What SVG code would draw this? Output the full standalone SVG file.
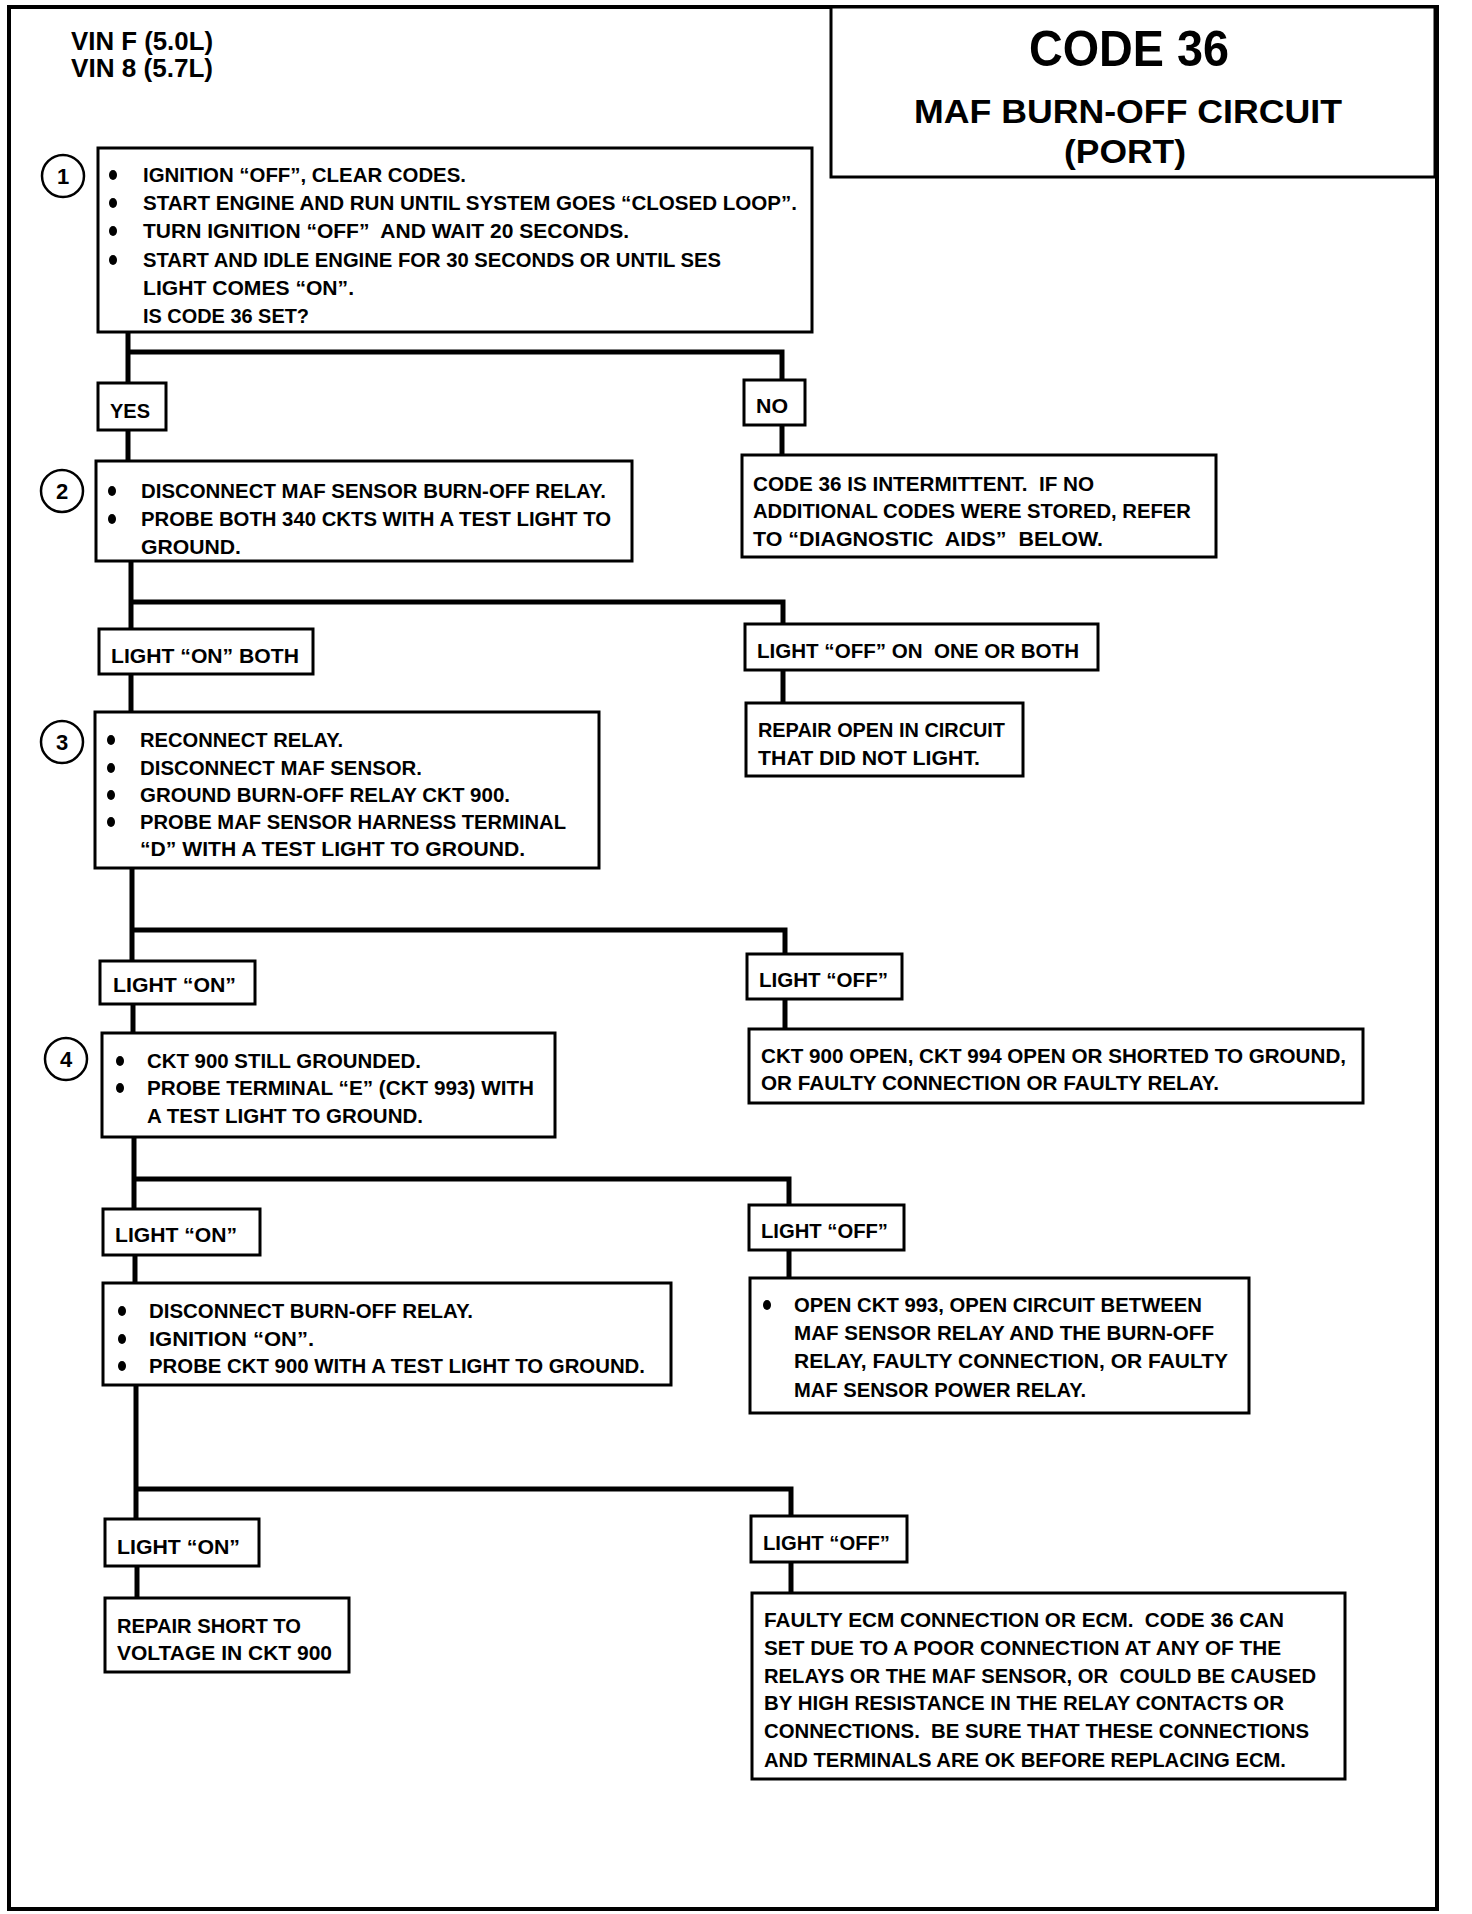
<svg xmlns="http://www.w3.org/2000/svg" width="1472" height="1914" viewBox="0 0 1472 1914" xml:space="preserve">
<style>
.bg{fill:#fff}
.frame{fill:none;stroke:#000;stroke-width:4}
.box{fill:#fff;stroke:#000;stroke-width:3}
.con{fill:none;stroke:#000;stroke-width:5;stroke-linejoin:miter}
.t{font-family:"Liberation Sans",Arial,sans-serif;font-weight:bold;font-size:20.5px;fill:#000;white-space:pre}
.vin{font-family:"Liberation Sans",Arial,sans-serif;font-weight:bold;font-size:25px;fill:#000}
.h1{font-family:"Liberation Sans",Arial,sans-serif;font-weight:bold;font-size:50px;fill:#000}
.h2{font-family:"Liberation Sans",Arial,sans-serif;font-weight:bold;font-size:33px;fill:#000}
.num{font-family:"Liberation Sans",Arial,sans-serif;font-weight:bold;font-size:22px;fill:#000;text-anchor:middle}
.circ{fill:#fff;stroke:#000;stroke-width:2.5}
.dot{fill:#000}
</style>
<rect class="bg" x="0" y="0" width="1472" height="1914"/>
<rect class="frame" x="9" y="7" width="1428" height="1902"/>
<g id="header">
<text class="vin" x="71" y="50" textLength="142" lengthAdjust="spacingAndGlyphs">VIN F (5.0L)</text>
<text class="vin" x="71" y="77" textLength="142" lengthAdjust="spacingAndGlyphs">VIN 8 (5.7L)</text>
</g>
<g id="title">
<rect class="box" x="831" y="7" width="604" height="170"/>
<text class="h1" x="1029" y="66" textLength="200" lengthAdjust="spacingAndGlyphs">CODE 36</text>
<text class="h2" x="914" y="123" textLength="428" lengthAdjust="spacingAndGlyphs">MAF BURN-OFF CIRCUIT</text>
<text class="h2" x="1064" y="163" textLength="122" lengthAdjust="spacingAndGlyphs">(PORT)</text>
</g>
<g id="connectors">
<path class="con" d="M128,332 V383 M128,352 H782 V380"/>
<path class="con" d="M128,430 V461"/>
<path class="con" d="M782,425 V455"/>
<path class="con" d="M131,561 V629 M131,602 H783 V624"/>
<path class="con" d="M783,670 V703"/>
<path class="con" d="M131,674 V712"/>
<path class="con" d="M132,868 V961 M132,930 H785 V954"/>
<path class="con" d="M133,1004 V1033"/>
<path class="con" d="M785,999 V1029"/>
<path class="con" d="M134,1137 V1209 M134,1179 H789 V1205"/>
<path class="con" d="M135,1255 V1283"/>
<path class="con" d="M789,1250 V1278"/>
<path class="con" d="M136,1385 V1519 M136,1489 H791 V1516"/>
<path class="con" d="M137,1566 V1598"/>
<path class="con" d="M791,1562 V1593"/>
</g>
<g id="step1">
<circle class="circ" cx="63" cy="176" r="21"/>
<text class="num" x="63" y="184">1</text>
<rect class="box" x="98" y="148" width="714" height="184"/>
<ellipse class="dot" cx="113" cy="175" rx="4" ry="5"/>
<ellipse class="dot" cx="113" cy="203" rx="4" ry="5"/>
<ellipse class="dot" cx="113" cy="231" rx="4" ry="5"/>
<ellipse class="dot" cx="113" cy="260" rx="4" ry="5"/>
<text class="t" x="143" y="182" textLength="323" lengthAdjust="spacingAndGlyphs">IGNITION “OFF”, CLEAR CODES.</text>
<text class="t" x="143" y="210" textLength="654" lengthAdjust="spacingAndGlyphs">START ENGINE AND RUN UNTIL SYSTEM GOES “CLOSED LOOP”.</text>
<text class="t" x="143" y="238" textLength="486" lengthAdjust="spacingAndGlyphs">TURN IGNITION “OFF”  AND WAIT 20 SECONDS.</text>
<text class="t" x="143" y="267" textLength="578" lengthAdjust="spacingAndGlyphs">START AND IDLE ENGINE FOR 30 SECONDS OR UNTIL SES</text>
<text class="t" x="143" y="295" textLength="211" lengthAdjust="spacingAndGlyphs">LIGHT COMES “ON”.</text>
<text class="t" x="143" y="323" textLength="166" lengthAdjust="spacingAndGlyphs">IS CODE 36 SET?</text>
</g>
<g id="yes">
<rect class="box" x="98" y="383" width="68" height="47"/>
<text class="t" x="110" y="418" textLength="40" lengthAdjust="spacingAndGlyphs">YES</text>
</g>
<g id="no">
<rect class="box" x="744" y="380" width="61" height="45"/>
<text class="t" x="756" y="413" textLength="32" lengthAdjust="spacingAndGlyphs">NO</text>
</g>
<g id="step2">
<circle class="circ" cx="62" cy="491" r="21"/>
<text class="num" x="62" y="499">2</text>
<rect class="box" x="96" y="461" width="536" height="100"/>
<ellipse class="dot" cx="112" cy="491" rx="4" ry="5"/>
<ellipse class="dot" cx="112" cy="519" rx="4" ry="5"/>
<text class="t" x="141" y="498" textLength="465" lengthAdjust="spacingAndGlyphs">DISCONNECT MAF SENSOR BURN-OFF RELAY.</text>
<text class="t" x="141" y="526" textLength="470" lengthAdjust="spacingAndGlyphs">PROBE BOTH 340 CKTS WITH A TEST LIGHT TO</text>
<text class="t" x="141" y="554" textLength="100" lengthAdjust="spacingAndGlyphs">GROUND.</text>
</g>
<g id="intermittent">
<rect class="box" x="742" y="455" width="474" height="102"/>
<text class="t" x="753" y="491" textLength="341" lengthAdjust="spacingAndGlyphs">CODE 36 IS INTERMITTENT.  IF NO</text>
<text class="t" x="753" y="518" textLength="438" lengthAdjust="spacingAndGlyphs">ADDITIONAL CODES WERE STORED, REFER</text>
<text class="t" x="753" y="546" textLength="350" lengthAdjust="spacingAndGlyphs">TO “DIAGNOSTIC  AIDS”  BELOW.</text>
</g>
<g id="light-on-both">
<rect class="box" x="99" y="629" width="214" height="45"/>
<text class="t" x="111" y="663" textLength="188" lengthAdjust="spacingAndGlyphs">LIGHT “ON” BOTH</text>
</g>
<g id="light-off-one">
<rect class="box" x="745" y="624" width="353" height="46"/>
<text class="t" x="757" y="658" textLength="322" lengthAdjust="spacingAndGlyphs">LIGHT “OFF” ON  ONE OR BOTH</text>
</g>
<g id="repair-open">
<rect class="box" x="746" y="703" width="277" height="73"/>
<text class="t" x="758" y="737" textLength="247" lengthAdjust="spacingAndGlyphs">REPAIR OPEN IN CIRCUIT</text>
<text class="t" x="758" y="765" textLength="222" lengthAdjust="spacingAndGlyphs">THAT DID NOT LIGHT.</text>
</g>
<g id="step3">
<circle class="circ" cx="62" cy="742" r="21"/>
<text class="num" x="62" y="750">3</text>
<rect class="box" x="95" y="712" width="504" height="156"/>
<ellipse class="dot" cx="111" cy="740" rx="4" ry="5"/>
<ellipse class="dot" cx="111" cy="768" rx="4" ry="5"/>
<ellipse class="dot" cx="111" cy="795" rx="4" ry="5"/>
<ellipse class="dot" cx="111" cy="822" rx="4" ry="5"/>
<text class="t" x="140" y="747" textLength="203" lengthAdjust="spacingAndGlyphs">RECONNECT RELAY.</text>
<text class="t" x="140" y="775" textLength="282" lengthAdjust="spacingAndGlyphs">DISCONNECT MAF SENSOR.</text>
<text class="t" x="140" y="802" textLength="370" lengthAdjust="spacingAndGlyphs">GROUND BURN-OFF RELAY CKT 900.</text>
<text class="t" x="140" y="829" textLength="426" lengthAdjust="spacingAndGlyphs">PROBE MAF SENSOR HARNESS TERMINAL</text>
<text class="t" x="140" y="856" textLength="385" lengthAdjust="spacingAndGlyphs">“D” WITH A TEST LIGHT TO GROUND.</text>
</g>
<g id="light-on-2">
<rect class="box" x="100" y="961" width="155" height="43"/>
<text class="t" x="113" y="992" textLength="123" lengthAdjust="spacingAndGlyphs">LIGHT “ON”</text>
</g>
<g id="light-off-2">
<rect class="box" x="747" y="954" width="155" height="45"/>
<text class="t" x="759" y="987" textLength="129" lengthAdjust="spacingAndGlyphs">LIGHT “OFF”</text>
</g>
<g id="step4">
<circle class="circ" cx="66" cy="1059" r="21"/>
<text class="num" x="66" y="1067">4</text>
<rect class="box" x="102" y="1033" width="453" height="104"/>
<ellipse class="dot" cx="120" cy="1061" rx="4" ry="5"/>
<ellipse class="dot" cx="120" cy="1088" rx="4" ry="5"/>
<text class="t" x="147" y="1068" textLength="274" lengthAdjust="spacingAndGlyphs">CKT 900 STILL GROUNDED.</text>
<text class="t" x="147" y="1095" textLength="387" lengthAdjust="spacingAndGlyphs">PROBE TERMINAL “E” (CKT 993) WITH</text>
<text class="t" x="147" y="1123" textLength="276" lengthAdjust="spacingAndGlyphs">A TEST LIGHT TO GROUND.</text>
</g>
<g id="ckt900-open">
<rect class="box" x="749" y="1029" width="614" height="74"/>
<text class="t" x="761" y="1063" textLength="585" lengthAdjust="spacingAndGlyphs">CKT 900 OPEN, CKT 994 OPEN OR SHORTED TO GROUND,</text>
<text class="t" x="761" y="1090" textLength="458" lengthAdjust="spacingAndGlyphs">OR FAULTY CONNECTION OR FAULTY RELAY.</text>
</g>
<g id="light-on-3">
<rect class="box" x="103" y="1209" width="157" height="46"/>
<text class="t" x="115" y="1242" textLength="122" lengthAdjust="spacingAndGlyphs">LIGHT “ON”</text>
</g>
<g id="light-off-3">
<rect class="box" x="749" y="1205" width="155" height="45"/>
<text class="t" x="761" y="1238" textLength="127" lengthAdjust="spacingAndGlyphs">LIGHT “OFF”</text>
</g>
<g id="step5">
<rect class="box" x="103" y="1283" width="568" height="102"/>
<ellipse class="dot" cx="122" cy="1311" rx="4" ry="5"/>
<ellipse class="dot" cx="122" cy="1339" rx="4" ry="5"/>
<ellipse class="dot" cx="122" cy="1366" rx="4" ry="5"/>
<text class="t" x="149" y="1318" textLength="324" lengthAdjust="spacingAndGlyphs">DISCONNECT BURN-OFF RELAY.</text>
<text class="t" x="149" y="1346" textLength="165" lengthAdjust="spacingAndGlyphs">IGNITION “ON”.</text>
<text class="t" x="149" y="1373" textLength="496" lengthAdjust="spacingAndGlyphs">PROBE CKT 900 WITH A TEST LIGHT TO GROUND.</text>
</g>
<g id="open-ckt993">
<rect class="box" x="750" y="1278" width="499" height="135"/>
<ellipse class="dot" cx="767" cy="1305" rx="4" ry="5"/>
<text class="t" x="794" y="1312" textLength="408" lengthAdjust="spacingAndGlyphs">OPEN CKT 993, OPEN CIRCUIT BETWEEN</text>
<text class="t" x="794" y="1340" textLength="420" lengthAdjust="spacingAndGlyphs">MAF SENSOR RELAY AND THE BURN-OFF</text>
<text class="t" x="794" y="1368" textLength="434" lengthAdjust="spacingAndGlyphs">RELAY, FAULTY CONNECTION, OR FAULTY</text>
<text class="t" x="794" y="1397" textLength="292" lengthAdjust="spacingAndGlyphs">MAF SENSOR POWER RELAY.</text>
</g>
<g id="light-on-4">
<rect class="box" x="105" y="1519" width="154" height="47"/>
<text class="t" x="117" y="1554" textLength="123" lengthAdjust="spacingAndGlyphs">LIGHT “ON”</text>
</g>
<g id="light-off-4">
<rect class="box" x="751" y="1516" width="156" height="46"/>
<text class="t" x="763" y="1550" textLength="127" lengthAdjust="spacingAndGlyphs">LIGHT “OFF”</text>
</g>
<g id="repair-short">
<rect class="box" x="105" y="1598" width="244" height="74"/>
<text class="t" x="117" y="1633" textLength="184" lengthAdjust="spacingAndGlyphs">REPAIR SHORT TO</text>
<text class="t" x="117" y="1660" textLength="215" lengthAdjust="spacingAndGlyphs">VOLTAGE IN CKT 900</text>
</g>
<g id="faulty-ecm">
<rect class="box" x="752" y="1593" width="593" height="186"/>
<text class="t" x="764" y="1627" textLength="520" lengthAdjust="spacingAndGlyphs">FAULTY ECM CONNECTION OR ECM.  CODE 36 CAN</text>
<text class="t" x="764" y="1655" textLength="517" lengthAdjust="spacingAndGlyphs">SET DUE TO A POOR CONNECTION AT ANY OF THE</text>
<text class="t" x="764" y="1683" textLength="552" lengthAdjust="spacingAndGlyphs">RELAYS OR THE MAF SENSOR, OR  COULD BE CAUSED</text>
<text class="t" x="764" y="1710" textLength="520" lengthAdjust="spacingAndGlyphs">BY HIGH RESISTANCE IN THE RELAY CONTACTS OR</text>
<text class="t" x="764" y="1738" textLength="545" lengthAdjust="spacingAndGlyphs">CONNECTIONS.  BE SURE THAT THESE CONNECTIONS</text>
<text class="t" x="764" y="1767" textLength="522" lengthAdjust="spacingAndGlyphs">AND TERMINALS ARE OK BEFORE REPLACING ECM.</text>
</g>
</svg>
